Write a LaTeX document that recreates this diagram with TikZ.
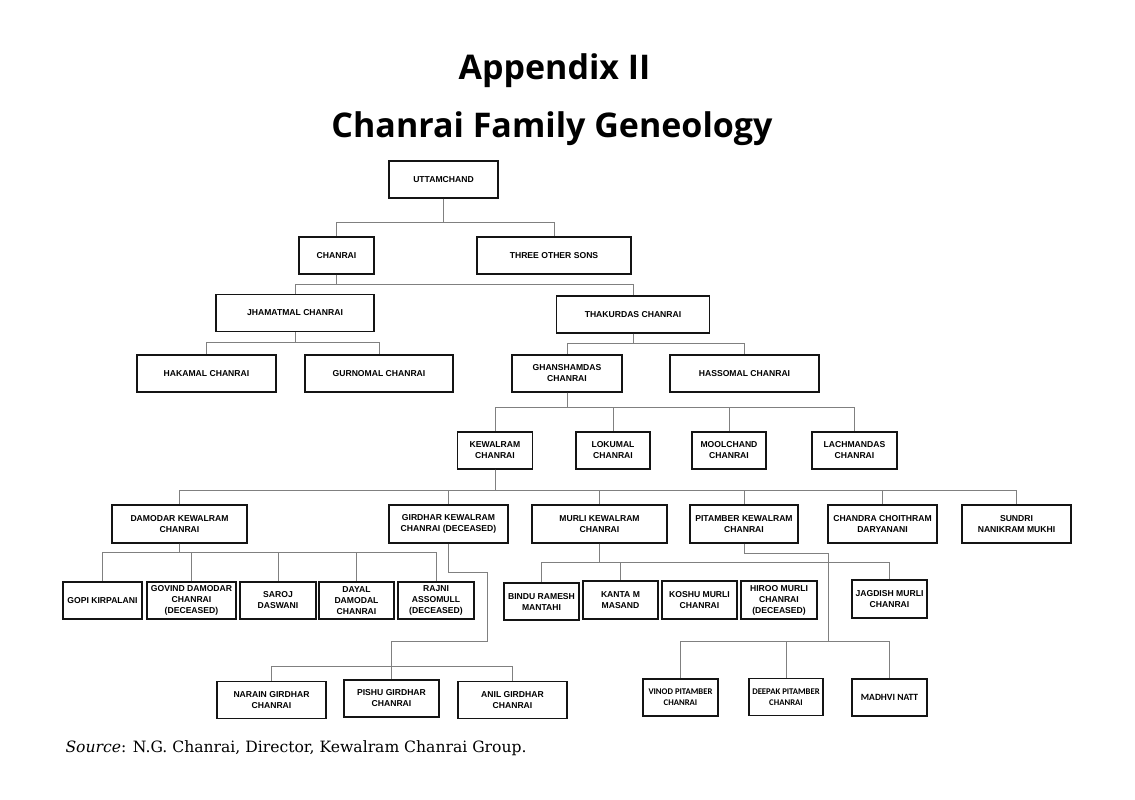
\documentclass[tikz,border=0pt]{standalone}
\usepackage{fontspec}
\setmainfont{DejaVu Serif}
\newfontfamily\boxfont{Liberation Sans}
\newfontfamily\titlefont{Open Sans}
\newfontfamily\calfont{Carlito}
\usepackage{tikz}
\usetikzlibrary{positioning}
\usepackage{xcolor}
\definecolor{linegray}{RGB}{128, 128, 128}
\definecolor{boxblack}{RGB}{20, 20, 20}

\begin{document}
\begin{tikzpicture}[x=1pt, y=-1pt,
    person/.style={draw=boxblack, rectangle, line width=1.1pt, inner sep=0pt, align=center, font=\boxfont\bfseries\fontsize{8.6}{11}\selectfont},
    wh/.style 2 args={minimum width=#1pt, minimum height=#2pt},
    link/.style={draw=linegray, line width=0.9pt}]
    \useasboundingbox (0,0) rectangle (1135,800);

    \node[anchor=base, font=\titlefont\bfseries\fontsize{34}{34}\selectfont] (appx) at (554.5,80) {Appendix II};
    \node[anchor=base, font=\titlefont\bfseries\fontsize{34}{34}\selectfont] (title) at (552,137) {Chanrai Family Geneology};

    \node[person, wh={109}{37}] (uttam) at (443.5,179.5) {UTTAMCHAND};
    \node[person, wh={75}{37}] (chanrai) at (336.5,255.5) {CHANRAI};
    \node[person, wh={154}{37}] (three) at (554,255.5) {THREE OTHER SONS};
    \node[person, wh={158}{37}] (jhamatmal) at (295,313) {JHAMATMAL CHANRAI};
    \node[person, wh={153}{37}] (thakurdas) at (633,314.5) {THAKURDAS CHANRAI};
    \node[person, wh={139}{37}] (hakamal) at (206.5,373.5) {HAKAMAL CHANRAI};
    \node[person, wh={148}{37}] (gurnomal) at (379,373.5) {GURNOMAL CHANRAI};
    \node[person, wh={110}{37}] (ghanshamdas) at (567,373.5) {GHANSHAMDAS\\CHANRAI};
    \node[person, wh={149}{37}] (hassomal) at (744.5,373.5) {HASSOMAL CHANRAI};

    \node[person, wh={75}{37}] (kewalram) at (495,450.5) {KEWALRAM\\CHANRAI};
    \node[person, wh={74}{37}] (lokumal) at (613,450.5) {LOKUMAL\\CHANRAI};
    \node[person, wh={74}{37}] (moolchand) at (729,450.5) {MOOLCHAND\\CHANRAI};
    \node[person, wh={85}{37}] (lachmandas) at (854.5,450.5) {LACHMANDAS\\CHANRAI};

    \node[person, wh={135}{38}] (damodar) at (179.5,524) {DAMODAR KEWALRAM\\CHANRAI};
    \node[person, wh={119}{38}] (girdhar) at (448.5,524) {GIRDHAR KEWALRAM\\CHANRAI (DECEASED)};
    \node[person, wh={135}{38}] (murli) at (599.5,524) {MURLI KEWALRAM\\CHANRAI};
    \node[person, wh={108}{38}] (pitamber) at (744,524) {PITAMBER KEWALRAM\\CHANRAI};
    \node[person, wh={109}{38}] (chandra) at (882.5,524) {CHANDRA CHOITHRAM\\DARYANANI};
    \node[person, wh={109}{38}] (sundri) at (1016.5,524) {SUNDRI\\NANIKRAM MUKHI};

    \node[person, wh={79}{37}] (gopi) at (102.5,600.5) {GOPI KIRPALANI};
    \node[person, wh={89}{37}] (govind) at (191.5,600.5) {GOVIND DAMODAR\\CHANRAI\\(DECEASED)};
    \node[person, wh={76}{37}] (saroj) at (278,600.5) {SAROJ\\DASWANI};
    \node[person, wh={75}{37}] (dayal) at (356.5,600.5) {DAYAL\\DAMODAL\\CHANRAI};
    \node[person, wh={76}{37}] (rajni) at (436,600.5) {RAJNI\\ASSOMULL\\(DECEASED)};

    \node[person, wh={75}{37}] (bindu) at (541.5,601.5) {BINDU RAMESH\\MANTAHI};
    \node[person, wh={75}{38}] (kanta) at (620.5,600) {KANTA M\\MASAND};
    \node[person, wh={75}{38}] (koshu) at (699.5,600) {KOSHU MURLI\\CHANRAI};
    \node[person, wh={76}{38}] (hiroo) at (779,600) {HIROO MURLI\\CHANRAI\\(DECEASED)};
    \node[person, wh={75}{38}] (jagdish) at (889.5,599) {JAGDISH MURLI\\CHANRAI};

    \node[person, wh={109}{37}] (narain) at (271.5,700) {NARAIN GIRDHAR\\CHANRAI};
    \node[person, wh={95}{37}] (pishu) at (391.5,698.5) {PISHU GIRDHAR\\CHANRAI};
    \node[person, wh={109}{37}] (anil) at (512.5,700) {ANIL GIRDHAR\\CHANRAI};
    \node[person, wh={75}{37}, font=\calfont\bfseries\fontsize{8.7}{11}\selectfont] (vinod) at (680.5,697.5) {VINOD PITAMBER\\CHANRAI};
    \node[person, wh={74}{37}, font=\calfont\bfseries\fontsize{8.7}{11}\selectfont] (deepak) at (786,697) {DEEPAK PITAMBER\\CHANRAI};
    \node[person, wh={75}{37}, font=\calfont\bfseries\fontsize{9.5}{11}\selectfont] (madhvi) at (889.5,697.5) {MADHVI NATT};

    \node[anchor=base west, font=\fontsize{15.6}{18}\selectfont] (source) at (62,752) {\textit{Source}: N.G. Chanrai, Director, Kewalram Chanrai Group.};

    \coordinate (gjog) at (487,641);
    \coordinate (gbar) at (391.5,666);
    \coordinate (pbar) at (828,641);

    \draw[link] (uttam.south) -- ++(0,23.7) -| (chanrai.north);
    \draw[link] (uttam.south) -- ++(0,23.7) -| (three.north);
    \draw[link] (chanrai.south) -- ++(0,10) -| (jhamatmal.north);
    \draw[link] (chanrai.south) -- ++(0,10) -| (thakurdas.north);
    \draw[link] (jhamatmal.south) -- ++(0,10.5) -| (hakamal.north);
    \draw[link] (jhamatmal.south) -- ++(0,10.5) -| (gurnomal.north);
    \draw[link] (thakurdas.south) -- ++(0,10) -| (ghanshamdas.north);
    \draw[link] (thakurdas.south) -- ++(0,10) -| (hassomal.north);
    \foreach \kid in {kewalram, lokumal, moolchand, lachmandas}
        \draw[link] (ghanshamdas.south) -- ++(0,15) -| (\kid.north);
    \foreach \kid in {damodar, girdhar, murli, pitamber, chandra, sundri}
        \draw[link] (kewalram.south) -- ++(0,21) -| (\kid.north);
    \foreach \kid in {gopi, govind, saroj, dayal, rajni}
        \draw[link] (damodar.south) -- ++(0,9.3) -| (\kid.north);
    \foreach \kid in {bindu, kanta, jagdish}
        \draw[link] (murli.south) -- ++(0,19) -| (\kid.north);
    \draw[link] (girdhar.south) -- ++(0,29) -| (gjog) -| (pishu.north);
    \draw[link] (gbar) -| (narain.north);
    \draw[link] (gbar) -| (anil.north);
    \draw[link] (pitamber.south) -- ++(0,9.5) -| (pbar);
    \foreach \kid in {vinod, deepak, madhvi}
        \draw[link] (pbar) -| (\kid.north);
\end{tikzpicture}
\end{document}
